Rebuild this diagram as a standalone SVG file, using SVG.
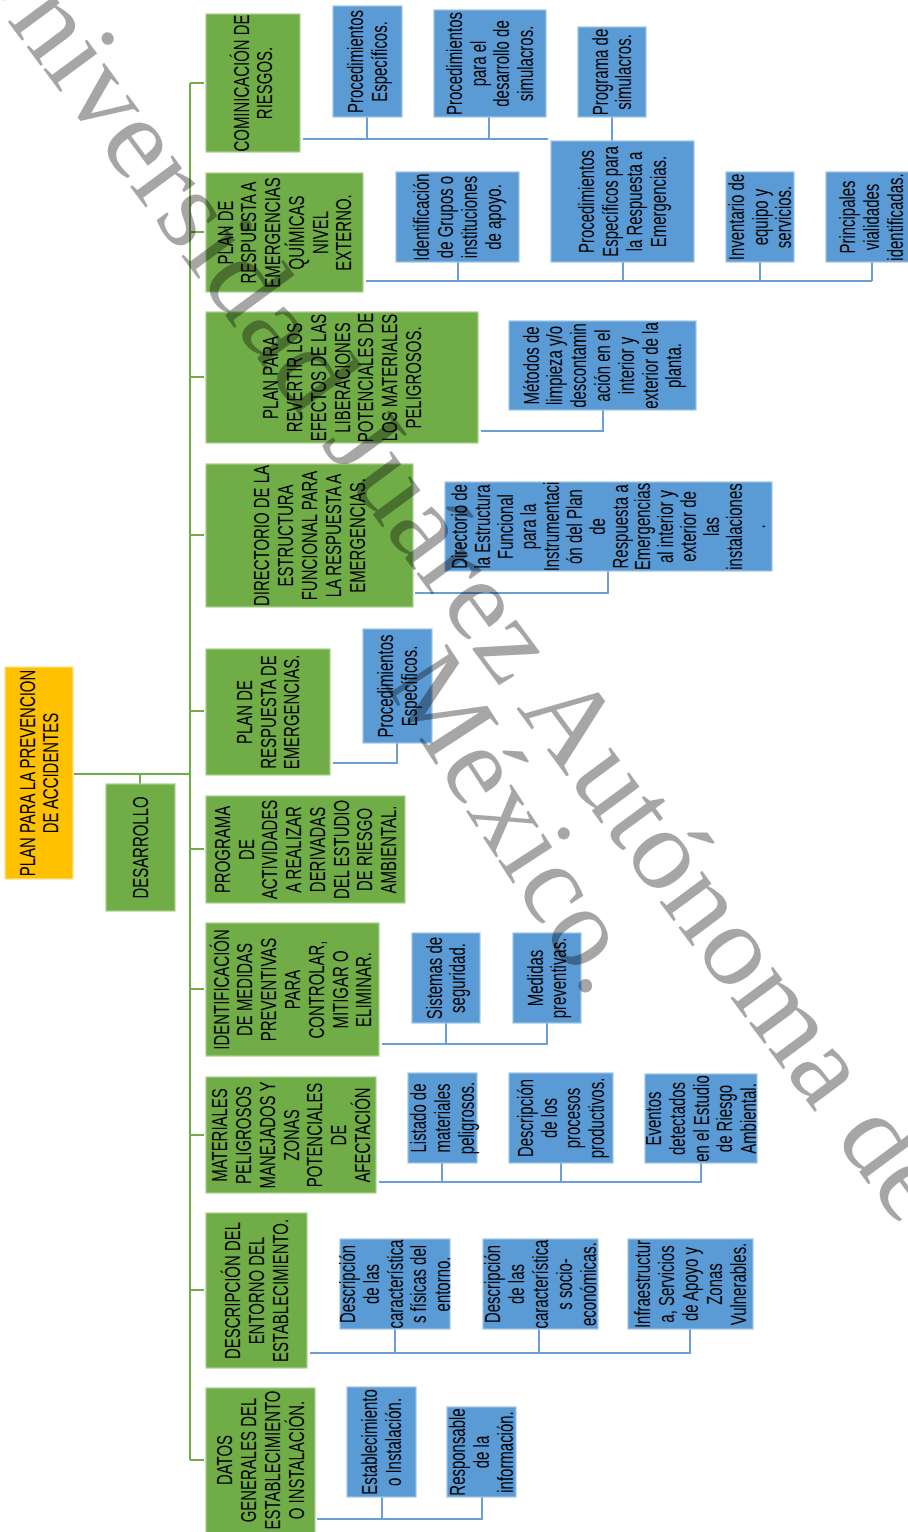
<svg xmlns="http://www.w3.org/2000/svg" width="908" height="1532" viewBox="0 0 908 1532">
<style>
.g{fill:#70AD47;stroke:#A9D08E;stroke-width:1.2}
.b{fill:#5B9BD5;stroke:#9DC3E6;stroke-width:1.2}
.o{fill:#FFC000;stroke:#FFE08A;stroke-width:1.2}
.t{font-family:"Liberation Sans",Arial,sans-serif;font-size:22px;fill:#000;text-anchor:middle}
.gc{fill:none;stroke:#70AD47;stroke-width:2}
.bc{fill:none;stroke:#6A9FD9;stroke-width:2}
.wm{font-family:"Liberation Serif","Times New Roman",serif;font-size:115px;fill:#000;fill-opacity:0.35}
</style>
<rect width="908" height="1532" fill="#fff"/>
<g id="connectors">
<path class="gc" d="M74,774H190M140,774V784M190,83V1460M190,83H204M190,232H204M190,377H204M190,535H204M190,711H204M190,849H204M190,989H204M190,1135H204M190,1290H204M190,1460H204"/>
<path class="bc" d="M303,139H548M367,117V139M489,117V139M612,117V141"/>
<path class="bc" d="M366,281H872M458,262V281M623,262V281M760,262V281M872,262V281"/>
<path class="bc" d="M481,431H603V410"/>
<path class="bc" d="M415,593H608V571"/>
<path class="bc" d="M333,763H397V743"/>
<path class="bc" d="M382,1044H547V1023M446,1023V1044"/>
<path class="bc" d="M379,1182H701V1163M442,1163V1182M561,1163V1182"/>
<path class="bc" d="M310,1353H690V1329M395,1329V1353M539,1329V1353"/>
<path class="bc" d="M317,1519H482V1497M382,1497V1519"/>
</g>
<g id="root"><rect class="o" x="5" y="667" width="68" height="212"/>
<g transform="translate(39,773) rotate(-90) scale(0.68,1)"><text class="t"><tspan x="0" y="-4.4">PLAN PARA LA PREVENCION</tspan><tspan x="0" dy="23.8">DE ACCIDENTES</tspan></text></g></g>
<g id="desarrollo"><rect class="g" x="106" y="784" width="69" height="127"/>
<g transform="translate(140.5,847.5) rotate(-90) scale(0.68,1)"><text class="t"><tspan x="0" y="7.5">DESARROLLO</tspan></text></g></g>
<g id="g1"><rect class="g" x="206" y="14" width="94" height="138"/>
<g transform="translate(253,83) rotate(-90) scale(0.68,1)"><text class="t"><tspan x="0" y="-4.4">COMINICACIÓN DE</tspan><tspan x="0" dy="23.8">RIESGOS.</tspan></text></g></g>
<g id="g2"><rect class="g" x="206" y="173" width="157" height="119"/>
<g transform="translate(284.5,232.5) rotate(-90) scale(0.68,1)"><text class="t"><tspan x="0" y="-52">PLAN DE</tspan><tspan x="0" dy="23.8">RESPUESTA A</tspan><tspan x="0" dy="23.8">EMERGENCIAS</tspan><tspan x="0" dy="23.8">QUÍMICAS</tspan><tspan x="0" dy="23.8">NIVEL</tspan><tspan x="0" dy="23.8">EXTERNO.</tspan></text></g></g>
<g id="g3"><rect class="g" x="206" y="312" width="272" height="131"/>
<g transform="translate(342,377.5) rotate(-90) scale(0.68,1)"><text class="t"><tspan x="0" y="-63.9">PLAN PARA</tspan><tspan x="0" dy="23.8">REVERTIR LOS</tspan><tspan x="0" dy="23.8">EFECTOS DE LAS</tspan><tspan x="0" dy="23.8">LIBERACIONES</tspan><tspan x="0" dy="23.8">POTENCIALES DE</tspan><tspan x="0" dy="23.8">LOS MATERIALES</tspan><tspan x="0" dy="23.8">PELIGROSOS.</tspan></text></g></g>
<g id="g4"><rect class="g" x="206" y="464" width="207" height="143"/>
<g transform="translate(309.5,535.5) rotate(-90) scale(0.68,1)"><text class="t"><tspan x="0" y="-40.1">DIRECTORIO DE LA</tspan><tspan x="0" dy="23.8">ESTRUCTURA</tspan><tspan x="0" dy="23.8">FUNCIONAL PARA</tspan><tspan x="0" dy="23.8">LA RESPUESTA A</tspan><tspan x="0" dy="23.8">EMERGENCIAS.</tspan></text></g></g>
<g id="g5"><rect class="g" x="206" y="649" width="124" height="126"/>
<g transform="translate(268,712) rotate(-90) scale(0.68,1)"><text class="t"><tspan x="0" y="-16.3">PLAN DE</tspan><tspan x="0" dy="23.8">RESPUESTA DE</tspan><tspan x="0" dy="23.8">EMERGENCIAS.</tspan></text></g></g>
<g id="g6"><rect class="g" x="206" y="796" width="199" height="107"/>
<g transform="translate(305.5,849.5) rotate(-90) scale(0.68,1)"><text class="t"><tspan x="0" y="-75.8">PROGRAMA</tspan><tspan x="0" dy="23.8">DE</tspan><tspan x="0" dy="23.8">ACTIVIDADES</tspan><tspan x="0" dy="23.8">A REALIZAR</tspan><tspan x="0" dy="23.8">DERIVADAS</tspan><tspan x="0" dy="23.8">DEL ESTUDIO</tspan><tspan x="0" dy="23.8">DE RIESGO</tspan><tspan x="0" dy="23.8">AMBIENTAL.</tspan></text></g></g>
<g id="g7"><rect class="g" x="206" y="923" width="173" height="133"/>
<g transform="translate(292.5,989.5) rotate(-90) scale(0.68,1)"><text class="t"><tspan x="0" y="-63.9">IDENTIFICACIÓN</tspan><tspan x="0" dy="23.8">DE MEDIDAS</tspan><tspan x="0" dy="23.8">PREVENTIVAS</tspan><tspan x="0" dy="23.8">PARA</tspan><tspan x="0" dy="23.8">CONTROLAR,</tspan><tspan x="0" dy="23.8">MITIGAR O</tspan><tspan x="0" dy="23.8">ELIMINAR.</tspan></text></g></g>
<g id="g8"><rect class="g" x="206" y="1077" width="170" height="116"/>
<g transform="translate(291,1135) rotate(-90) scale(0.68,1)"><text class="t"><tspan x="0" y="-63.9">MATERIALES</tspan><tspan x="0" dy="23.8">PELIGROSOS</tspan><tspan x="0" dy="23.8">MANEJADOS Y</tspan><tspan x="0" dy="23.8">ZONAS</tspan><tspan x="0" dy="23.8">POTENCIALES</tspan><tspan x="0" dy="23.8">DE</tspan><tspan x="0" dy="23.8">AFECTACIÓN</tspan></text></g></g>
<g id="g9"><rect class="g" x="206" y="1213" width="101" height="155"/>
<g transform="translate(256.5,1290.5) rotate(-90) scale(0.68,1)"><text class="t"><tspan x="0" y="-16.3">DESCRIPCIÓN DEL</tspan><tspan x="0" dy="23.8">ENTORNO DEL</tspan><tspan x="0" dy="23.8">ESTABLECIMIENTO.</tspan></text></g></g>
<g id="g10"><rect class="g" x="206" y="1388" width="109" height="150"/>
<g transform="translate(260.5,1460) rotate(-90) scale(0.68,1)"><text class="t"><tspan x="0" y="-28.2">DATOS</tspan><tspan x="0" dy="23.8">GENERALES DEL</tspan><tspan x="0" dy="23.8">ESTABLECIMIENTO</tspan><tspan x="0" dy="23.8">O INSTALACIÓN.</tspan></text></g></g>
<g id="b1"><rect class="b" x="333" y="6" width="69" height="111"/>
<g transform="translate(367.5,61.5) rotate(-90) scale(0.68,1)"><text class="t"><tspan x="0" y="-4.4">Procedimientos</tspan><tspan x="0" dy="23.8">Específicos.</tspan></text></g></g>
<g id="b2"><rect class="b" x="434" y="10" width="112" height="107"/>
<g transform="translate(490,63.5) rotate(-90) scale(0.68,1)"><text class="t"><tspan x="0" y="-28.2">Procedimientos</tspan><tspan x="0" dy="23.8">para el</tspan><tspan x="0" dy="23.8">desarrollo de</tspan><tspan x="0" dy="23.8">simulacros.</tspan></text></g></g>
<g id="b3"><rect class="b" x="578" y="27" width="68" height="90"/>
<g transform="translate(612,72) rotate(-90) scale(0.68,1)"><text class="t"><tspan x="0" y="-4.4">Programa de</tspan><tspan x="0" dy="23.8">simulacros.</tspan></text></g></g>
<g id="b4"><rect class="b" x="396" y="172" width="123" height="90"/>
<g transform="translate(457.5,217) rotate(-90) scale(0.68,1)"><text class="t"><tspan x="0" y="-28.2">Identificación</tspan><tspan x="0" dy="23.8">de Grupos o</tspan><tspan x="0" dy="23.8">instituciones</tspan><tspan x="0" dy="23.8">de apoyo.</tspan></text></g></g>
<g id="b5"><rect class="b" x="551" y="141" width="143" height="121"/>
<g transform="translate(622.5,201.5) rotate(-90) scale(0.68,1)"><text class="t"><tspan x="0" y="-28.2">Procedimientos</tspan><tspan x="0" dy="23.8">Específicos para</tspan><tspan x="0" dy="23.8">la Respuesta a</tspan><tspan x="0" dy="23.8">Emergencias.</tspan></text></g></g>
<g id="b6"><rect class="b" x="726" y="172" width="68" height="90"/>
<g transform="translate(760,217) rotate(-90) scale(0.68,1)"><text class="t"><tspan x="0" y="-16.3">Inventario de</tspan><tspan x="0" dy="23.8">equipo y</tspan><tspan x="0" dy="23.8">servicios.</tspan></text></g></g>
<g id="b7"><rect class="b" x="826" y="172" width="91" height="90"/>
<g transform="translate(871.5,217) rotate(-90) scale(0.68,1)"><text class="t"><tspan x="0" y="-16.3">Principales</tspan><tspan x="0" dy="23.8">vialidades</tspan><tspan x="0" dy="23.8">identificadas.</tspan></text></g></g>
<g id="b8"><rect class="b" x="509" y="321" width="187" height="89"/>
<g transform="translate(602.5,365.5) rotate(-90) scale(0.68,1)"><text class="t"><tspan x="0" y="-63.9">Métodos de</tspan><tspan x="0" dy="23.8">limpieza y/o</tspan><tspan x="0" dy="23.8">descontamin</tspan><tspan x="0" dy="23.8">ación en el</tspan><tspan x="0" dy="23.8">interior y</tspan><tspan x="0" dy="23.8">exterior de la</tspan><tspan x="0" dy="23.8">planta.</tspan></text></g></g>
<g id="b9"><rect class="b" x="445" y="482" width="327" height="89"/>
<g transform="translate(608.5,526.5) rotate(-90) scale(0.68,1)"><text class="t"><tspan x="0" y="-142">Directorio de</tspan><tspan x="0" dy="23">la Estructura</tspan><tspan x="0" dy="23">Funcional</tspan><tspan x="0" dy="23">para la</tspan><tspan x="0" dy="23">Instrumentaci</tspan><tspan x="0" dy="23">ón del Plan</tspan><tspan x="0" dy="23">de</tspan><tspan x="0" dy="23">Respuesta a</tspan><tspan x="0" dy="23">Emergencias</tspan><tspan x="0" dy="23">al interior y</tspan><tspan x="0" dy="23">exterior de</tspan><tspan x="0" dy="23">las</tspan><tspan x="0" dy="23">instalaciones</tspan><tspan x="0" dy="23">.</tspan></text></g></g>
<g id="b10"><rect class="b" x="363" y="629" width="69" height="114"/>
<g transform="translate(397.5,686) rotate(-90) scale(0.68,1)"><text class="t"><tspan x="0" y="-4.4">Procedimientos</tspan><tspan x="0" dy="23.8">Específicos.</tspan></text></g></g>
<g id="b11"><rect class="b" x="412" y="933" width="68" height="90"/>
<g transform="translate(446,978) rotate(-90) scale(0.68,1)"><text class="t"><tspan x="0" y="-4.4">Sistemas de</tspan><tspan x="0" dy="23.8">seguridad.</tspan></text></g></g>
<g id="b12"><rect class="b" x="513" y="933" width="68" height="90"/>
<g transform="translate(547,978) rotate(-90) scale(0.68,1)"><text class="t"><tspan x="0" y="-4.4">Medidas</tspan><tspan x="0" dy="23.8">preventivas.</tspan></text></g></g>
<g id="b13"><rect class="b" x="408" y="1073" width="69" height="90"/>
<g transform="translate(442.5,1118) rotate(-90) scale(0.68,1)"><text class="t"><tspan x="0" y="-16.3">Listado de</tspan><tspan x="0" dy="23.8">materiales</tspan><tspan x="0" dy="23.8">peligrosos.</tspan></text></g></g>
<g id="b14"><rect class="b" x="509" y="1073" width="104" height="90"/>
<g transform="translate(561,1118) rotate(-90) scale(0.68,1)"><text class="t"><tspan x="0" y="-28.2">Descripción</tspan><tspan x="0" dy="23.8">de los</tspan><tspan x="0" dy="23.8">procesos</tspan><tspan x="0" dy="23.8">productivos.</tspan></text></g></g>
<g id="b15"><rect class="b" x="645" y="1074" width="112" height="89"/>
<g transform="translate(701,1118.5) rotate(-90) scale(0.68,1)"><text class="t"><tspan x="0" y="-40.1">Eventos</tspan><tspan x="0" dy="23.8">detectados</tspan><tspan x="0" dy="23.8">en el Estudio</tspan><tspan x="0" dy="23.8">de Riesgo</tspan><tspan x="0" dy="23.8">Ambiental.</tspan></text></g></g>
<g id="b16"><rect class="b" x="340" y="1239" width="110" height="90"/>
<g transform="translate(395,1284) rotate(-90) scale(0.68,1)"><text class="t"><tspan x="0" y="-40.1">Descripción</tspan><tspan x="0" dy="23.8">de las</tspan><tspan x="0" dy="23.8">característica</tspan><tspan x="0" dy="23.8">s físicas del</tspan><tspan x="0" dy="23.8">entorno.</tspan></text></g></g>
<g id="b17"><rect class="b" x="483" y="1239" width="115" height="90"/>
<g transform="translate(540.5,1284) rotate(-90) scale(0.68,1)"><text class="t"><tspan x="0" y="-40.1">Descripción</tspan><tspan x="0" dy="23.8">de las</tspan><tspan x="0" dy="23.8">característica</tspan><tspan x="0" dy="23.8">s socio-</tspan><tspan x="0" dy="23.8">económicas.</tspan></text></g></g>
<g id="b18"><rect class="b" x="628" y="1239" width="125" height="90"/>
<g transform="translate(690.5,1284) rotate(-90) scale(0.68,1)"><text class="t"><tspan x="0" y="-40.1">Infraestructur</tspan><tspan x="0" dy="23.8">a, Servicios</tspan><tspan x="0" dy="23.8">de Apoyo y</tspan><tspan x="0" dy="23.8">Zonas</tspan><tspan x="0" dy="23.8">Vulnerables.</tspan></text></g></g>
<g id="b19"><rect class="b" x="347" y="1387" width="69" height="110"/>
<g transform="translate(381.5,1442) rotate(-90) scale(0.68,1)"><text class="t"><tspan x="0" y="-4.4">Establecimiento</tspan><tspan x="0" dy="23.8">o Instalación.</tspan></text></g></g>
<g id="b20"><rect class="b" x="447" y="1407" width="69" height="90"/>
<g transform="translate(481.5,1452) rotate(-90) scale(0.68,1)"><text class="t"><tspan x="0" y="-16.3">Responsable</tspan><tspan x="0" dy="23.8">de la</tspan><tspan x="0" dy="23.8">información.</tspan></text></g></g>
<g id="watermark">
<text class="wm" transform="translate(-45,-50) rotate(53.5)" textLength="1590" lengthAdjust="spacingAndGlyphs">Universidad Juárez Autónoma de</text>
<text class="wm" transform="translate(382,682) rotate(57)">México.</text>
</g>
</svg>
